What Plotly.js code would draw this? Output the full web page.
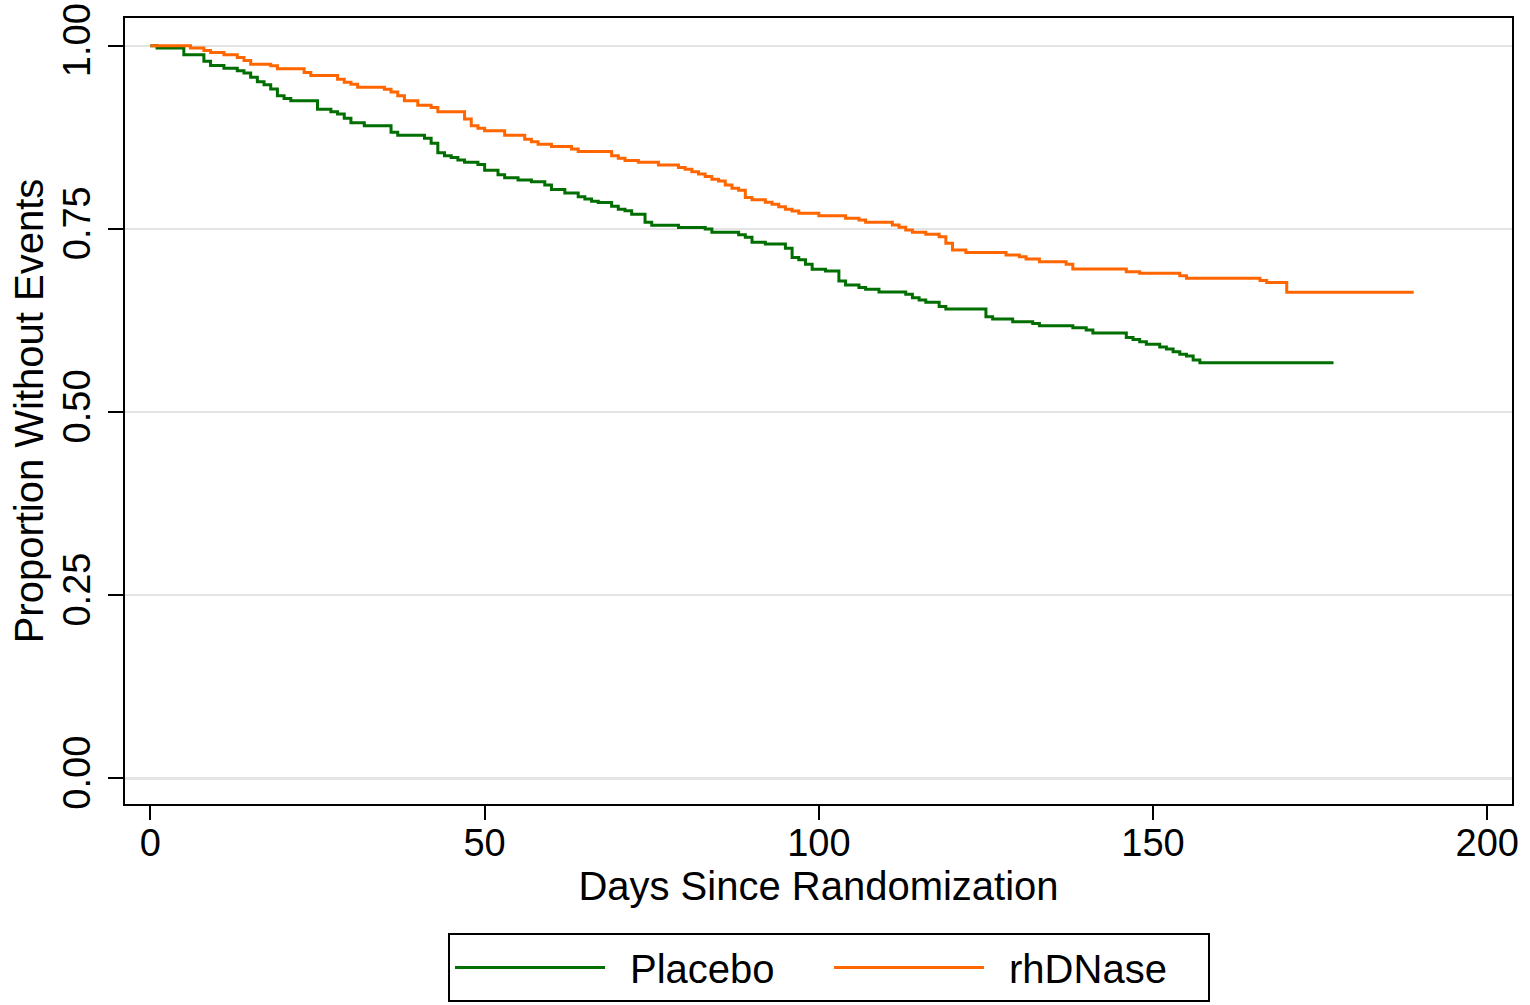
<!DOCTYPE html>
<html>
<head>
<meta charset="utf-8">
<script src="https://cdn.plot.ly/plotly-3.0.1.min.js"></script>
<style>html,body{margin:0;padding:0;background:#fff;overflow:hidden;}#chart{width:1530px;height:1005px;}</style>
</head>
<body>
<div id="chart"></div>
<script>
// Placebo group: Kaplan-Meier step curve (days, proportion without events)
const placeboDays = [0,1,5,8,9,11,13,14,15,16,17,18,19,20,21,25,27,28,29,30,32,36,37,41,42,43,44,45,46,47,49,50,52,53,55,57,59,60,62,64,65,66,67,69,70,71,72,74,75,79,83,84,88,89,90,92,95,96,97,98,99,101,103,104,106,107,109,113,114,115,116,118,119,125,126,129,132,133,138,140,141,146,147,148,149,151,152,153,154,155,156,157,177];
const placeboSurv = [1.0,0.997,0.988,0.979,0.973,0.9695,0.966,0.963,0.957,0.951,0.947,0.941,0.932,0.928,0.925,0.9135,0.910,0.907,0.901,0.895,0.891,0.882,0.878,0.874,0.867,0.854,0.850,0.8475,0.844,0.841,0.838,0.830,0.824,0.820,0.817,0.8146,0.810,0.804,0.799,0.794,0.791,0.788,0.786,0.781,0.777,0.775,0.770,0.759,0.755,0.752,0.750,0.7455,0.742,0.7386,0.732,0.7295,0.7236,0.711,0.708,0.702,0.695,0.6926,0.679,0.6735,0.670,0.6676,0.664,0.661,0.656,0.653,0.650,0.644,0.6407,0.630,0.627,0.6234,0.621,0.618,0.615,0.612,0.608,0.602,0.599,0.596,0.5925,0.589,0.586,0.5824,0.579,0.5765,0.571,0.5674,0.5674];

// rhDNase group
const rhdnaseDays = [0,6,8,9,11,13,14,15,18,19,23,24,28,29,30,31,35,36,37,38,40,42,43,47,48,49,50,53,56,57,58,60,63,64,69,70,71,73,76,79,80,81,82,83,84,85,86,87,88,89,90,92,93,94,95,96,97,100,104,106,107,111,112,113,114,116,118,119,120,122,128,130,131,133,137,138,146,148,154,155,166,167,170,189];
const rhdnaseSurv = [1.0,0.997,0.9936,0.991,0.9877,0.984,0.980,0.975,0.9727,0.9686,0.9636,0.9595,0.9545,0.9504,0.9477,0.9436,0.9408,0.937,0.9317,0.925,0.919,0.9157,0.910,0.900,0.891,0.8876,0.884,0.878,0.8725,0.869,0.8657,0.8625,0.859,0.8556,0.850,0.8466,0.8433,0.841,0.8374,0.834,0.8316,0.828,0.825,0.8215,0.818,0.8156,0.810,0.8056,0.803,0.793,0.790,0.7865,0.7837,0.7805,0.777,0.7746,0.7714,0.768,0.7646,0.7623,0.759,0.7555,0.7523,0.7486,0.7455,0.7427,0.7395,0.7304,0.7213,0.718,0.7145,0.712,0.709,0.7054,0.702,0.6954,0.6917,0.6895,0.686,0.6827,0.6795,0.677,0.6635,0.6635];

const seriesNames = ['Placebo','rhDNase'];
const xTicks = [0,50,100,150,200];
const yTicks = [0,0.25,0.5,0.75,1];
const yTickText = ['0.00','0.25','0.50','0.75','1.00'];
const xTitle = 'Days Since Randomization';
const yTitle = 'Proportion Without Events';

const FONT = '"Liberation Sans", Arial, Helvetica, sans-serif';
const GAP = '\u2002';

const traces = [
  {x: placeboDays, y: placeboSurv, name: GAP + seriesNames[0], type: 'scatter', mode: 'lines',
   line: {shape: 'hv', color: '#006e00', width: 3}},
  {x: rhdnaseDays, y: rhdnaseSurv, name: GAP + seriesNames[1], type: 'scatter', mode: 'lines',
   line: {shape: 'hv', color: '#ff6600', width: 3}}
];

const layout = {
  width: 1530, height: 1005,
  paper_bgcolor: '#ffffff', plot_bgcolor: '#ffffff',
  margin: {l: 125, r: 18, t: 18, b: 201, pad: 0},
  font: {family: FONT, color: '#000000', size: 38},
  showlegend: true,
  xaxis: {
    range: [-3.8, 203.7], tickvals: xTicks, ticks: 'outside', ticklen: 14, tickwidth: 2, tickcolor: '#000',
    showline: true, linewidth: 2, linecolor: '#000', mirror: true, showgrid: false, zeroline: false,
    tickfont: {family: FONT, size: 38, color: '#000'}, ticklabelstandoff: -10,
    title: {text: xTitle, font: {family: FONT, size: 40, color: '#000'}, standoff: 6},
    automargin: false
  },
  yaxis: {
    range: [-0.035, 1.038], tickvals: yTicks, ticktext: yTickText, tickangle: -90,
    ticks: 'outside', ticklen: 15, tickwidth: 2, tickcolor: '#000',
    showline: true, linewidth: 2, linecolor: '#000', mirror: true,
    showgrid: true, gridcolor: '#e4e4e4', gridwidth: 2.5, zeroline: false,
    tickfont: {family: FONT, size: 38, color: '#000'}, ticklabelstandoff: 3,
    title: {text: yTitle, font: {family: FONT, size: 40, color: '#000'}, standoff: 0},
    automargin: false
  },
  legend: {
    orientation: 'h', x: 0.5076, xanchor: 'center', xref: 'paper',
    y: (1005 - 933) / 1005, yanchor: 'top', yref: 'container',
    bordercolor: '#000', borderwidth: 2, bgcolor: '#fff',
    font: {family: FONT, size: 40, color: '#000'}, itemwidth: 150,
    entrywidth: 214, entrywidthmode: 'pixels',
    traceorder: 'normal'
  }
};

Plotly.newPlot('chart', traces, layout, {displayModeBar: false, staticPlot: true});
</script>
</body>
</html>
